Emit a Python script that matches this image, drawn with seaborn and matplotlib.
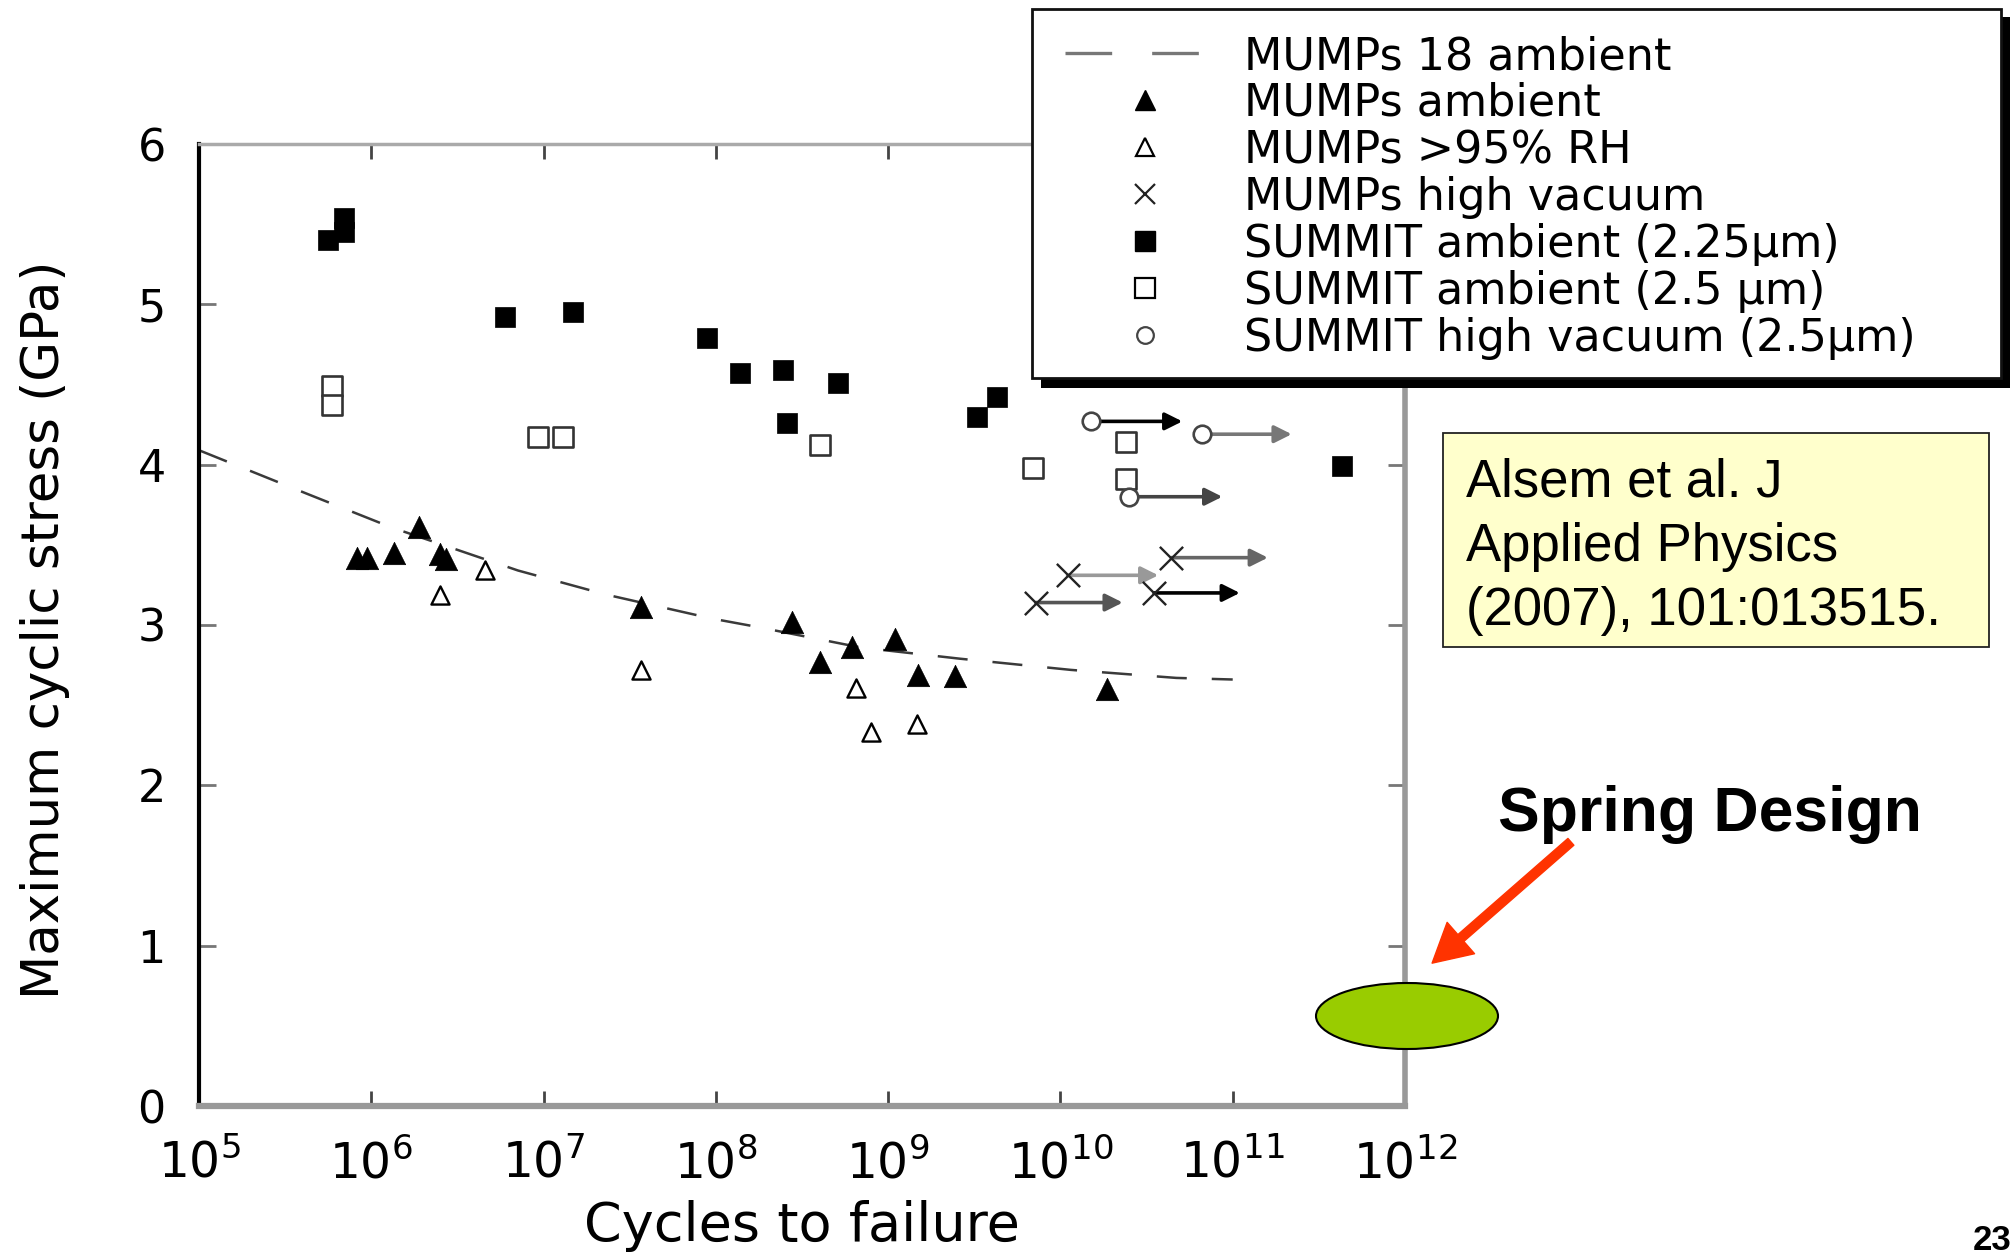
import numpy as np
import pandas as pd
import matplotlib
matplotlib.use("Agg")
import matplotlib.pyplot as plt
import seaborn as sns
from matplotlib.patches import Rectangle, Ellipse, FancyArrowPatch
from matplotlib.lines import Line2D

# ---------------- data ----------------
# MUMPs 18 ambient fit (dashed curve)
fit_cycles = [1.0e5, 4.2e5, 1.3e6, 7.1e6, 2.3e7, 9.5e7, 1.7e8, 6.9e8, 2.6e9, 1.15e10, 4.7e10, 1.0e11]
fit_stress = [4.09, 3.82, 3.61, 3.34, 3.19, 3.04, 2.99, 2.86, 2.79, 2.72, 2.67, 2.66]

# MUMPs ambient (filled triangles)
mumps_amb_cycles = [8.3e5, 9.5e5, 1.35e6, 1.9e6, 2.5e6, 2.7e6, 3.7e7, 2.75e8, 4.0e8, 6.2e8, 1.1e9, 1.5e9, 2.45e9, 1.86e10]
mumps_amb_stress = [3.42, 3.42, 3.45, 3.61, 3.44, 3.41, 3.11, 3.02, 2.77, 2.86, 2.91, 2.69, 2.68, 2.60]

# MUMPs >95% RH (open triangles)
mumps_rh_cycles = [2.5e6, 4.6e6, 3.7e7, 6.5e8, 7.9e8, 1.48e9]
mumps_rh_stress = [3.19, 3.34, 2.72, 2.61, 2.33, 2.38]

# MUMPs high vacuum (x, run-outs with arrows)
mumps_vac_cycles = [7.2e9, 1.1e10, 3.5e10, 4.4e10]
mumps_vac_stress = [3.14, 3.31, 3.20, 3.42]
mumps_vac_arrow_end = [2.3e10, 3.7e10, 1.1e11, 1.6e11]

# SUMMIT ambient (2.25 um) (filled squares)
summit225_cycles = [5.6e5, 6.9e5, 6.9e5, 6.0e6, 1.48e7, 8.9e7, 1.38e8, 2.45e8, 2.6e8, 5.1e8, 3.3e9, 4.3e9, 4.3e11]
summit225_stress = [5.40, 5.54, 5.45, 4.92, 4.95, 4.79, 4.57, 4.59, 4.26, 4.51, 4.30, 4.42, 3.99]

# SUMMIT ambient (2.5 um) (open squares)
summit25_cycles = [5.9e5, 5.9e5, 9.3e6, 1.29e7, 4.0e8, 6.9e9, 2.4e10, 2.4e10]
summit25_stress = [4.49, 4.37, 4.17, 4.17, 4.12, 3.98, 4.14, 3.91]

# SUMMIT high vacuum (2.5 um) (open circles, run-outs with arrows)
summit_vac_cycles = [1.5e10, 6.6e10, 2.5e10]
summit_vac_stress = [4.27, 4.19, 3.80]
summit_vac_arrow_end = [5.1e10, 2.2e11, 8.7e10]

x_ticks = [1e5, 1e6, 1e7, 1e8, 1e9, 1e10, 1e11, 1e12]
x_tick_labels = [r"$10^{5}$", r"$10^{6}$", r"$10^{7}$", r"$10^{8}$",
                 r"$10^{9}$", r"$10^{10}$", r"$10^{11}$", r"$10^{12}$"]
y_ticks = [0, 1, 2, 3, 4, 5, 6]
y_tick_labels = ["0", "1", "2", "3", "4", "5", "6"]

legend_labels = ["MUMPs 18 ambient", "MUMPs ambient", "MUMPs >95% RH", "MUMPs high vacuum",
                 "SUMMIT ambient (2.25\u00b5m)", "SUMMIT ambient (2.5 \u00b5m)",
                 "SUMMIT high vacuum (2.5\u00b5m)"]
citation_lines = ["Alsem et al. J", "Applied Physics", "(2007), 101:013515."]

# ---------------- style ----------------
sns.set_style("white")
plt.rcParams["font.family"] = ["DejaVu Sans"]
plt.rcParams["mathtext.fontset"] = "dejavusans"
plt.rcParams["text.color"] = "black"
plt.rcParams["axes.labelcolor"] = "black"
plt.rcParams["xtick.labelcolor"] = "black"
plt.rcParams["ytick.labelcolor"] = "black"

W, H = 2012, 1254
fig = plt.figure(figsize=(W / 100, H / 100), dpi=100)
fig.patch.set_facecolor("white")

def fx(px):
    return px / W

def fy(py):
    return 1 - py / H

ax = fig.add_axes([fx(199), fy(1106), fx(1405) - fx(199), fy(144) - fy(1106)])
ax.set_facecolor("white")
ax.set_xscale("log")

# dashed fit curve
sns.lineplot(x=fit_cycles, y=fit_stress, ax=ax, color="#3a3a3a", lw=1.8,
             linestyle=(0, (12, 10)), sort=False, zorder=2)

# scatter series
sns.scatterplot(x=mumps_amb_cycles, y=mumps_amb_stress, ax=ax, marker="^", s=260,
                color="black", edgecolor="black", linewidth=0.5, zorder=4)
sns.scatterplot(x=mumps_rh_cycles, y=mumps_rh_stress, ax=ax, marker="^", s=170,
                color="white", edgecolor="black", linewidth=1.7, zorder=4)
sns.scatterplot(x=summit225_cycles, y=summit225_stress, ax=ax, marker="s", s=210,
                color="black", edgecolor="black", linewidth=0.5, zorder=4)
sns.scatterplot(x=summit25_cycles, y=summit25_stress, ax=ax, marker="s", s=200,
                color="white", edgecolor="#333333", linewidth=1.9, zorder=4)

# run-out arrows
vac_colors = ["#555555", "#999999", "#000000", "#666666"]
for c0, s0, c1, col in zip(mumps_vac_cycles, mumps_vac_stress, mumps_vac_arrow_end, vac_colors):
    ax.annotate("", xy=(c1, s0), xytext=(c0, s0),
                arrowprops=dict(arrowstyle="-|>", color=col, lw=2.6, mutation_scale=26,
                                shrinkA=0, shrinkB=0), zorder=3)
circ_colors = ["#000000", "#777777", "#444444"]
for c0, s0, c1, col in zip(summit_vac_cycles, summit_vac_stress, summit_vac_arrow_end, circ_colors):
    ax.annotate("", xy=(c1, s0), xytext=(c0, s0),
                arrowprops=dict(arrowstyle="-|>", color=col, lw=2.6, mutation_scale=26,
                                shrinkA=0, shrinkB=0), zorder=3)

sns.scatterplot(x=mumps_vac_cycles, y=mumps_vac_stress, ax=ax, marker="x", s=280,
                color="#222222", linewidth=1.7, zorder=5)
sns.scatterplot(x=summit_vac_cycles, y=summit_vac_stress, ax=ax, marker="o", s=160,
                color="white", edgecolor="#444444", linewidth=1.9, zorder=5)

ax.set_xlim(1e5, 1e12)
ax.set_ylim(0, 6)
ax.set_xticks(x_ticks)
ax.set_xticklabels(x_tick_labels)
ax.minorticks_off()
ax.set_yticks(y_ticks)
ax.set_yticklabels(y_tick_labels)
ax.tick_params(axis="x", which="major", direction="in", length=11, width=2, color="#444444",
               top=True, bottom=True, labelsize=35, pad=24, labelcolor="black")
ax.tick_params(axis="y", which="major", direction="in", length=12, width=2, color="#777777",
               left=True, right=True, labelsize=32, pad=24, labelcolor="black")

ax.spines["left"].set_color("black")
ax.spines["left"].set_linewidth(3)
ax.spines["bottom"].set_color("#999999")
ax.spines["bottom"].set_linewidth(4.5)
ax.spines["top"].set_color("#aaaaaa")
ax.spines["top"].set_linewidth(2.5)
ax.spines["right"].set_color("#999999")
ax.spines["right"].set_linewidth(4)
for sp in ax.spines.values():
    sp.set_visible(True)

ax.set_xlabel("Cycles to failure", fontsize=39)
ax.xaxis.label.set_verticalalignment("center")
ax.xaxis.set_label_coords((802 - 199) / 1206, (1106 - 1226) / 962)
ax.set_ylabel("Maximum cyclic stress (GPa)", fontsize=37)
ylab = ax.yaxis.label
ylab.set_rotation_mode("default")
ylab.set_verticalalignment("center")
ylab.set_horizontalalignment("center")
ax.yaxis.set_label_coords((45 - 199) / 1206, (1106 - 630) / 962)

# ---------------- legend box ----------------
shadow = Rectangle((fx(1041), fy(388)), fx(2010) - fx(1041), fy(17) - fy(388),
                   transform=fig.transFigure, facecolor="black", edgecolor="none", zorder=8)
frame = Rectangle((fx(1032), fy(378)), fx(2001) - fx(1032), fy(9) - fy(378),
                  transform=fig.transFigure, facecolor="white", edgecolor="#111111",
                  linewidth=2, zorder=9)
fig.add_artist(shadow)
fig.add_artist(frame)

handles = [
    Line2D([], [], color="#777777", lw=2.4, linestyle=(0, (14, 12))),
    Line2D([], [], marker="^", color="black", ms=15, linestyle="none"),
    Line2D([], [], marker="^", markerfacecolor="white", markeredgecolor="black", mew=1.6, ms=13, linestyle="none"),
    Line2D([], [], marker="x", color="#222222", mew=1.6, ms=15, linestyle="none"),
    Line2D([], [], marker="s", color="black", ms=15, linestyle="none"),
    Line2D([], [], marker="s", markerfacecolor="white", markeredgecolor="black", mew=1.6, ms=14, linestyle="none"),
    Line2D([], [], marker="o", markerfacecolor="white", markeredgecolor="#444444", mew=1.6, ms=12, linestyle="none"),
]
leg = fig.legend(handles, legend_labels, loc="upper left", bbox_to_anchor=(fx(1065), fy(35)),
                 bbox_transform=fig.transFigure, frameon=False, fontsize=32,
                 handlelength=3.6, handletextpad=0.42, labelspacing=0.09,
                 borderpad=0, borderaxespad=0)
leg.set_zorder(10)

# ---------------- citation box ----------------
cit = Rectangle((fx(1443), fy(647)), fx(1989) - fx(1443), fy(433) - fy(647),
                transform=fig.transFigure, facecolor="#ffffcc", edgecolor="#222222",
                linewidth=1.3, zorder=8)
fig.add_artist(cit)
for i, line in enumerate(citation_lines):
    fig.text(fx(1466), fy(497 + 64 * i), line, fontsize=38, family=["Liberation Sans", "DejaVu Sans"],
             va="baseline", ha="left", zorder=9, color="black")

# ---------------- spring design annotation ----------------
fig.text(fx(1498), fy(831), "Spring Design", fontsize=45, fontweight="bold", color="black",
         family=["Liberation Sans", "DejaVu Sans"], va="baseline", ha="left", zorder=9)
ell = Ellipse((fx(1407), fy(1016)), fx(182), 66 / H, transform=fig.transFigure,
              facecolor="#99cc00", edgecolor="black", linewidth=1.5, zorder=9)
fig.add_artist(ell)
arr = FancyArrowPatch((fx(1573), fy(840)), (fx(1430), fy(965)), transform=fig.transFigure,
                      arrowstyle="simple,head_length=0.55,head_width=0.6,tail_width=0.13",
                      mutation_scale=50, color="#ff3300", zorder=9)
fig.add_artist(arr)

fig.text(fx(2011), fy(1250), "23", fontsize=25, fontweight="bold", color="black",
         family=["Liberation Sans", "DejaVu Sans"], ha="right", va="baseline")

fig.savefig("out.png", dpi=100, facecolor="white")
